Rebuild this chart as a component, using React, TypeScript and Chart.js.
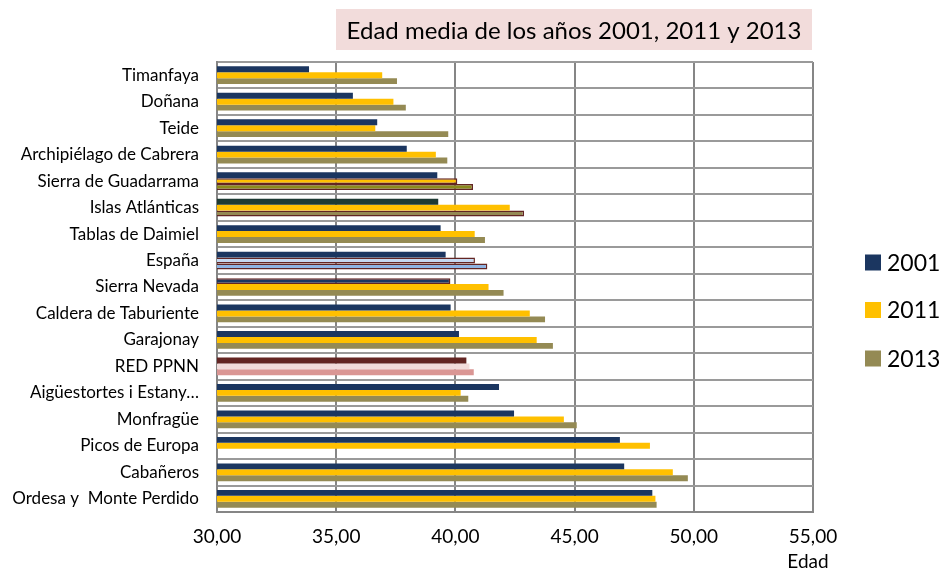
import { useEffect, useRef } from "react";
import { Chart, registerables } from "chart.js";

Chart.register(...registerables);

const titleText = "Edad media de los años 2001, 2011 y 2013";
const axisTitle = "Edad";

const categories = [
  "Timanfaya",
  "Doñana",
  "Teide",
  "Archipiélago de Cabrera",
  "Sierra de Guadarrama",
  "Islas Atlánticas",
  "Tablas de Daimiel",
  "España",
  "Sierra Nevada",
  "Caldera de Taburiente",
  "Garajonay",
  "RED PPNN",
  "Aigüestortes i Estany…",
  "Monfragüe",
  "Picos de Europa",
  "Cabañeros",
  "Ordesa y  Monte Perdido",
];

const seriesLabels = ["2001", "2011", "2013"];

const values2001 = [33.86, 35.7, 36.72, 37.96, 39.24, 39.28, 39.38, 39.59, 39.79, 39.8, 40.15, 40.46, 41.83, 42.46, 46.9, 47.08, 48.26];
const values2011 = [36.93, 37.4, 36.64, 39.18, 40.08, 42.28, 40.81, 40.82, 41.39, 43.12, 43.41, 40.59, 40.22, 44.55, 48.16, 49.12, 48.39];
const values2013 = [37.55, 37.92, 39.7, 39.66, 40.74, 42.88, 41.24, 41.34, 42.02, 43.76, 44.09, 40.77, 40.54, 45.09, null, 49.75, 48.44];

const xMin = 30;
const xMax = 55;
const xStep = 5;

const FONT = "Lato, 'Open Sans', sans-serif";
const NAVY = "#1b3660";
const YELLOW = "#ffc000";
const OLIVE = "#948a54";
const DARK_RED = "#632523";

function perBar(base: string, overrides: Record<number, string>) {
  return categories.map((_, i) => (i in overrides ? overrides[i] : base));
}

const colors2001 = perBar(NAVY, { 5: "#1d3a33", 11: DARK_RED });
const colors2011 = perBar(YELLOW, { 7: "#c6d9f1", 11: "#f2dcdb" });
const colors2013 = perBar(OLIVE, { 4: "#8a8a1c", 7: "#8eb4e3", 11: "#da9694" });

const outlined2001 = [8];
const outlined2011 = [4, 7];
const outlined2013 = [4, 5, 7];

function borderWidths(list: number[]) {
  return categories.map((_, i) => (list.includes(i) ? 1.5 : 0));
}

const titlePlugin = {
  id: "boxTitle",
  afterDraw(chart: any) {
    const ctx = chart.ctx;
    ctx.save();
    ctx.fillStyle = "#f2dcdb";
    ctx.fillRect(336, 9, 476, 41);
    ctx.fillStyle = "#000";
    ctx.font = `24px ${FONT}`;
    ctx.textAlign = "center";
    ctx.textBaseline = "middle";
    ctx.fillText(titleText, 574, 31);

    // axis title under last tick
    const xs = chart.scales.x;
    ctx.font = `19px ${FONT}`;
    ctx.fillText(axisTitle, xs.getPixelForValue(xMax) - 5, 562);

    // legend
    const ds = chart.data.datasets;
    const legendColors = [NAVY, YELLOW, OLIVE];
    const centers = [262.5, 310, 358.5];
    ctx.font = `23px ${FONT}`;
    ctx.textAlign = "left";
    ds.forEach((d: any, i: number) => {
      ctx.fillStyle = legendColors[i];
      ctx.fillRect(865, centers[i] - 8, 16, 16);
      ctx.fillStyle = "#000";
      ctx.fillText(d.label, 887, centers[i] + 1);
    });
    ctx.restore();
  },
};

export default function App() {
  const ref = useRef<HTMLCanvasElement | null>(null);

  useEffect(() => {
    if (!ref.current) return;
    const mk = (label: string, data: any[], bg: string[], outlined: number[]) => ({
      label,
      data,
      backgroundColor: bg,
      borderColor: DARK_RED,
      borderWidth: borderWidths(outlined),
      borderSkipped: false,
      categoryPercentage: 0.67,
      barPercentage: 1.0,
    });
    const chart = new Chart(ref.current, {
      type: "bar",
      data: {
        labels: categories,
        datasets: [
          mk(seriesLabels[0], values2001, colors2001, outlined2001),
          mk(seriesLabels[1], values2011, colors2011, outlined2011),
          mk(seriesLabels[2], values2013, colors2013, outlined2013),
        ],
      },
      options: {
        indexAxis: "y",
        animation: false,
        responsive: false,
        maintainAspectRatio: false,
        layout: { padding: { top: 62, right: 129, left: 0, bottom: 0 } },
        plugins: {
          legend: { display: false },
          title: { display: false },
          tooltip: { enabled: false },
        },
        scales: {
          x: {
            type: "linear",
            min: xMin,
            max: xMax,
            ticks: {
              stepSize: xStep,
              color: "#000",
              font: { family: FONT, size: 19 },
              padding: 13,
              callback: (v: any) => Number(v).toFixed(2).replace(".", ","),
            },
            grid: { color: "#868686", lineWidth: 2, drawTicks: false },
            border: { color: "#868686", width: 2 },
            afterFit: (s: any) => {
              s.height = 58;
            },
          },
          y: {
            type: "category",
            ticks: {
              color: "#000",
              font: { family: FONT, size: 17 },
              padding: 18,
              autoSkip: false,
            },
            grid: { color: "#9a9a9a", lineWidth: 2, drawTicks: false, offset: true },
            border: { color: "#868686", width: 2 },
            afterFit: (s: any) => {
              s.width = 217;
            },
          },
        },
      },
      plugins: [titlePlugin],
    });
    return () => chart.destroy();
  }, []);

  return (
    <div style={{ position: "absolute", left: 0, top: 0, width: 942, height: 570 }}>
      <canvas ref={ref} width={942} height={570} style={{ width: 942, height: 570 }} />
    </div>
  );
}
